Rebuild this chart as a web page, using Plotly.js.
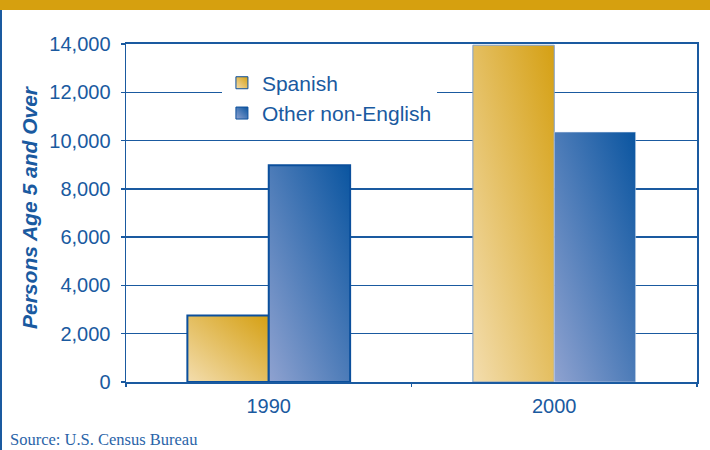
<!DOCTYPE html>
<html>
<head>
<meta charset="utf-8">
<script src="https://cdn.plot.ly/plotly-3.0.1.min.js"></script>
<style>
  html, body { margin: 0; padding: 0; background: #fff; }
  #wrap { position: relative; width: 710px; height: 450px; overflow: hidden; }
  #band { position: absolute; left: 0; top: 0; width: 710px; height: 10px; background: #d6a00f; z-index: 2; }
  #lborder { position: absolute; left: 0; top: 10px; width: 2px; height: 440px; background: #1a5aa0; z-index: 2; }
  #chart { position: absolute; left: 0; top: 0; width: 710px; height: 450px; }
</style>
</head>
<body>
<div id="wrap">
  <div id="chart"></div>
  <div id="band"></div>
  <div id="lborder"></div>
</div>
<script>
// ---- data ----
const years = ["1990", "2000"];
const spanish = [2750, 13950];
const otherNonEnglish = [8980, 10350];
const seriesNames = ["Spanish", "Other non-English"];
const yTickVals = [0, 2000, 4000, 6000, 8000, 10000, 12000, 14000];
const yTickText = ["0", "2,000", "4,000", "6,000", "8,000", "10,000", "12,000", "14,000"];
const yTitle = "Persons Age 5 and Over";
const sourceText = "Source: U.S. Census Bureau";

const BLUE = "#1a5aa0";

const traces = [
  {
    type: "bar", name: seriesNames[0], x: years, y: spanish,
    marker: { color: "#e0b24a", line: { color: ["#0b4f9c", "#7f9fc9"], width: [2, 1] } },
    hoverinfo: "x+y"
  },
  {
    type: "bar", name: seriesNames[1], x: years, y: otherNonEnglish,
    marker: { color: "#4a6fb2", line: { color: ["#0b4f9c", "#dfe6f2"], width: [2, 0.5] } },
    hoverinfo: "x+y"
  }
];

const layout = {
  width: 710, height: 450,
  margin: { l: 126, r: 13, t: 44, b: 68 },
  paper_bgcolor: "#ffffff", plot_bgcolor: "#ffffff",
  barmode: "group", bargap: 0.43, bargroupgap: 0,
  font: { family: "Liberation Sans, Arial, sans-serif", color: BLUE },
  showlegend: true,
  legend: {
    x: 0.168, y: 0.945, xanchor: "left", yanchor: "top",
    bgcolor: "#ffffff", borderwidth: 0,
    font: { size: 21, color: BLUE, family: "Liberation Sans, Arial, sans-serif" },
    traceorder: "normal"
  },
  xaxis: {
    type: "category",
    showline: true, linecolor: BLUE, linewidth: 2, mirror: true,
    ticks: "outside", tickson: "boundaries", ticklen: 3, tickcolor: BLUE, tickwidth: 1.5,
    ticklabelstandoff: 5,
    tickfont: { size: 20, color: BLUE },
    showgrid: false, zeroline: false
  },
  yaxis: {
    range: [0, 14000],
    tickvals: yTickVals, ticktext: yTickText,
    showline: true, linecolor: BLUE, linewidth: 1.5, mirror: true,
    ticks: "outside", ticklen: 4, tickcolor: BLUE, tickwidth: 1.5,
    ticklabelstandoff: 6,
    tickfont: { size: 20, color: BLUE },
    showgrid: true, gridcolor: BLUE, gridwidth: 1.5,
    zeroline: false
  },
  annotations: [
    {
      text: "<b><i>" + yTitle + "</i></b>", textangle: -90,
      xref: "paper", yref: "paper", x: -0.168, y: 0.518,
      xanchor: "center", yanchor: "middle", showarrow: false,
      font: { size: 21, color: BLUE, family: "Liberation Sans, Arial, sans-serif" }
    },
    {
      text: sourceText,
      xref: "paper", yref: "paper", x: -0.207, y: -0.137,
      xanchor: "left", yanchor: "top", showarrow: false,
      font: { size: 16.5, color: "#2a64a8", family: "Liberation Serif, Times New Roman, serif" }
    }
  ]
};

function applyGradients(gd) {
  const svg = gd.querySelector("svg.main-svg");
  if (!svg) return;
  const ns = "http://www.w3.org/2000/svg";
  let defs = svg.querySelector("defs");
  if (!defs) { defs = document.createElementNS(ns, "defs"); svg.insertBefore(defs, svg.firstChild); }
  function grad(id, c0, c1) {
    if (document.getElementById(id)) return;
    const g = document.createElementNS(ns, "linearGradient");
    g.setAttribute("id", id);
    g.setAttribute("x1", "0"); g.setAttribute("y1", "1");
    g.setAttribute("x2", "1"); g.setAttribute("y2", "0");
    const s0 = document.createElementNS(ns, "stop");
    s0.setAttribute("offset", "0"); s0.setAttribute("stop-color", c0);
    const s1 = document.createElementNS(ns, "stop");
    s1.setAttribute("offset", "1"); s1.setAttribute("stop-color", c1);
    g.appendChild(s0); g.appendChild(s1);
    defs.appendChild(g);
  }
  grad("gSpan", "#f3ddae", "#d5a013");
  grad("gOther", "#8fa2d0", "#0a55a0");
  const ids = ["gSpan", "gOther"];
  const barTraces = gd.querySelectorAll(".barlayer .trace.bars");
  barTraces.forEach((t, i) => {
    t.querySelectorAll(".point path").forEach(p => { p.style.fill = "url(#" + ids[i] + ")"; });
  });
  const legTraces = gd.querySelectorAll(".legend .traces");
  legTraces.forEach((t, i) => {
    t.querySelectorAll(".legendpoints path").forEach(p => {
      p.style.fill = "url(#" + ids[i] + ")";
      p.style.stroke = "#0b4f9c"; p.style.strokeWidth = "1px";
    });
  });
}

const gd = document.getElementById("chart");
Plotly.newPlot(gd, traces, layout, { staticPlot: true, displayModeBar: false }).then(() => {
  applyGradients(gd);
  gd.on && gd.on("plotly_afterplot", () => applyGradients(gd));
});
</script>
</body>
</html>
